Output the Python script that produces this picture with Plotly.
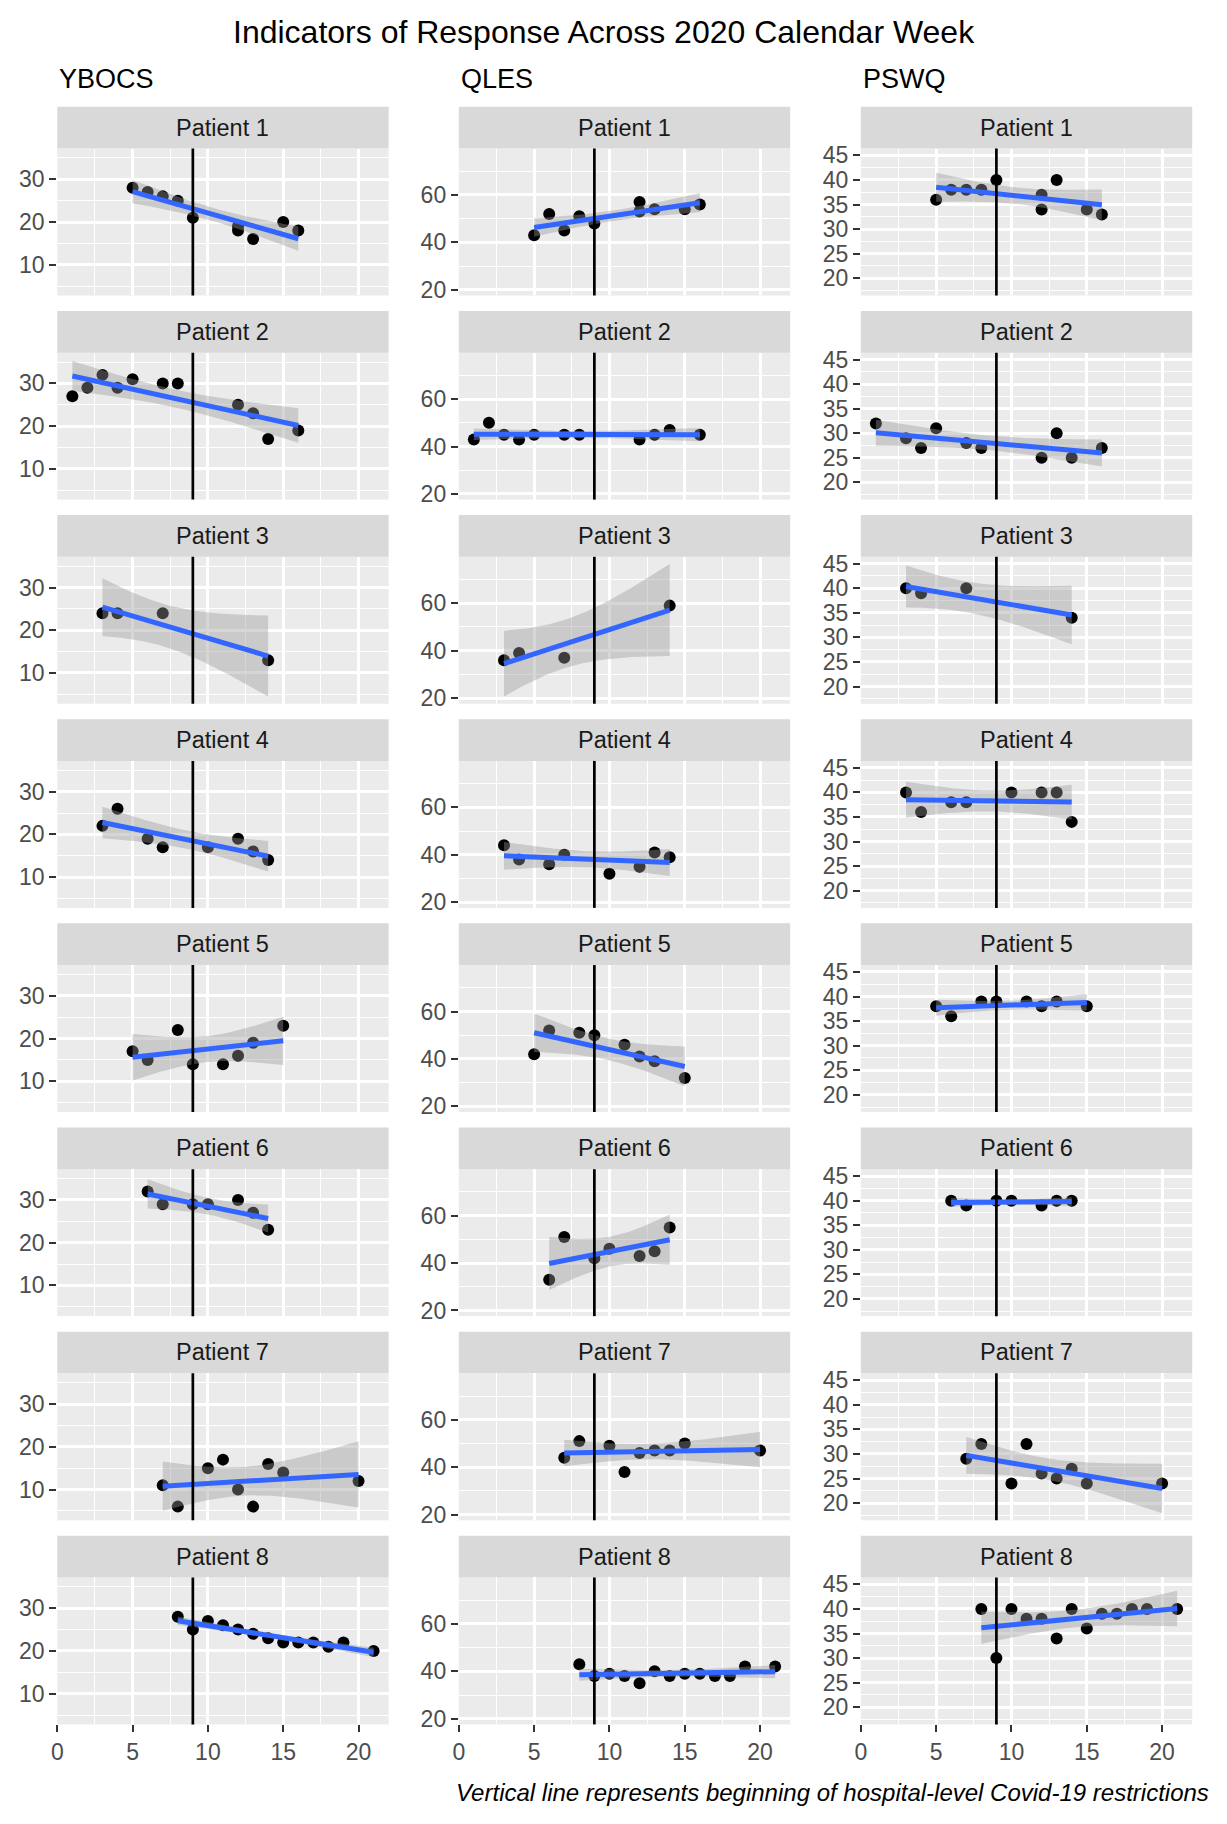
import numpy as np
import plotly.graph_objects as go

# calendar week of each assessment, per patient
weeks_p1 = [5, 6, 7, 8, 9, 12, 12, 13, 15, 16]
weeks_p2 = [1, 2, 3, 4, 5, 7, 8, 12, 13, 14, 16]
weeks_p3 = [3, 4, 7, 14]
weeks_p4 = [3, 4, 6, 7, 10, 12, 13, 14]
weeks_p5 = [5, 6, 8, 9, 11, 12, 13, 15]
weeks_p6 = [6, 7, 9, 10, 12, 13, 14]
weeks_p7 = [7, 8, 10, 11, 12, 13, 14, 15, 20]
weeks_p8 = [8, 9, 10, 11, 12, 13, 14, 15, 16, 17, 18, 19, 21]

# YBOCS scores
ybocs_p1 = [28, 27, 26, 25, 21, 19, 18, 16, 20, 18]
ybocs_p2 = [27, 29, 32, 29, 31, 30, 30, 25, 23, 17, 19]
ybocs_p3 = [24, 24, 24, 13]
ybocs_p4 = [22, 26, 19, 17, 17, 19, 16, 14]
ybocs_p5 = [17, 15, 22, 14, 14, 16, 19, 23]
ybocs_p6 = [32, 29, 29, 29, 30, 27, 23]
ybocs_p7 = [11, 6, 15, 17, 10, 6, 16, 14, 12]
ybocs_p8 = [28, 25, 27, 26, 25, 24, 23, 22, 22, 22, 21, 22, 20]

# QLES scores
qles_p1 = [43, 52, 45, 51, 48, 57, 53, 54, 54, 56]
qles_p2 = [43, 50, 45, 43, 45, 45, 45, 43, 45, 47, 45]
qles_p3 = [36, 39, 37, 59]
qles_p4 = [44, 38, 36, 40, 32, 35, 41, 39]
qles_p5 = [42, 52, 51, 50, 46, 41, 39, 32]
qles_p6 = [33, 51, 42, 46, 43, 45, 55]
qles_p7 = [44, 51, 49, 38, 46, 47, 47, 50, 47]
qles_p8 = [43, 38, 39, 38, 35, 40, 38, 39, 39, 38, 38, 42, 42]

# PSWQ scores (None = not collected that week)
pswq_p1 = [36, 38, 38, 38, 40, 37, 34, 40, 34, 33]
pswq_p2 = [32, None, 29, 27, 31, 28, 27, 25, 30, 25, 27]
pswq_p3 = [40, 39, 40, 34]
pswq_p4 = [40, 36, 38, 38, 40, 40, 40, 34]
pswq_p5 = [38, 36, 39, 39, 39, 38, 39, 38]
pswq_p6 = [40, 39, 40, 40, 39, 40, 40]
pswq_p7 = [29, 32, 24, 32, 26, 25, 27, 24, 24]
pswq_p8 = [40, 30, 40, 38, 38, 34, 40, 36, 39, 39, 40, 40, 40]

restriction_week = 9
x_ticks = [0, 5, 10, 15, 20]

weeks = [weeks_p1, weeks_p2, weeks_p3, weeks_p4, weeks_p5, weeks_p6, weeks_p7, weeks_p8]
measures = [
    ("YBOCS", [ybocs_p1, ybocs_p2, ybocs_p3, ybocs_p4, ybocs_p5, ybocs_p6, ybocs_p7, ybocs_p8],
     [2.8, 37.2], [10, 20, 30], [5, 15, 25, 35]),
    ("QLES", [qles_p1, qles_p2, qles_p3, qles_p4, qles_p5, qles_p6, qles_p7, qles_p8],
     [17.6, 79.6], [20, 40, 60], [30, 50, 70]),
    ("PSWQ", [pswq_p1, pswq_p2, pswq_p3, pswq_p4, pswq_p5, pswq_p6, pswq_p7, pswq_p8],
     [16.5, 46.4], [20, 25, 30, 35, 40, 45], [17.5, 22.5, 27.5, 32.5, 37.5, 42.5]),
]

# t(0.975) by degrees of freedom, for the lm confidence band
T975 = [None, 12.706, 4.303, 3.182, 2.776, 2.571, 2.447, 2.365, 2.306, 2.262, 2.228,
        2.201, 2.179, 2.160, 2.145, 2.131]


def lm_band(x, y, n_out=80):
    x = np.asarray(x, float)
    y = np.asarray(y, float)
    n = len(x)
    b1, b0 = np.polyfit(x, y, 1)
    xs = np.linspace(x.min(), x.max(), n_out)
    fit = b0 + b1 * xs
    s = np.sqrt(np.sum((y - (b0 + b1 * x)) ** 2) / (n - 2))
    sxx = np.sum((x - x.mean()) ** 2)
    se = s * np.sqrt(1 / n + (xs - x.mean()) ** 2 / sxx)
    t = T975[n - 2]
    return xs, fit, fit - t * se, fit + t * se


W, H = 1227, 1824
COL_LEFT = [43.5, 447, 851]
PANEL_W = 333
STRIP_TOP0 = 93.5
STRIP_H = 42
PANEL_H = 148
ROW_STEP = 205.6

FONT = "Liberation Sans, Arial, sans-serif"

fig = go.Figure()
shapes = []
annotations = []
layout_axes = {}

for c, (name, series, yrange, yticks, yminor) in enumerate(measures):
    x0 = COL_LEFT[c] / W
    x1 = (COL_LEFT[c] + PANEL_W) / W
    annotations.append(dict(text=name, x=x0, y=1 - 65 / H, xref="paper", yref="paper",
                            xanchor="left", yanchor="middle", showarrow=False,
                            font=dict(size=27, color="black")))
    for r in range(8):
        idx = c * 8 + r + 1
        xn = "x" if idx == 1 else f"x{idx}"
        yn = "y" if idx == 1 else f"y{idx}"
        strip_top = STRIP_TOP0 + r * ROW_STEP
        p_top = strip_top + STRIP_H
        p_bot = p_top + PANEL_H
        bottom = r == 7

        layout_axes["xaxis" if idx == 1 else f"xaxis{idx}"] = dict(
            domain=[x0, x1], anchor=yn, range=[0, 22], tickmode="array", tickvals=x_ticks,
            showgrid=True, gridcolor="white", gridwidth=2.6,
            minor=dict(tickmode="array", tickvals=[2.5, 7.5, 12.5, 17.5], showgrid=True,
                       gridcolor="white", gridwidth=1.3),
            zeroline=False, showline=False,
            ticks="outside" if bottom else "", ticklen=7, tickwidth=2.4, tickcolor="#333333",
            showticklabels=bottom, tickfont=dict(size=23, color="#4D4D4D"),
        )
        layout_axes["yaxis" if idx == 1 else f"yaxis{idx}"] = dict(
            domain=[1 - p_bot / H, 1 - p_top / H], anchor=xn, range=yrange,
            tickmode="array", tickvals=yticks,
            showgrid=True, gridcolor="white", gridwidth=2.6,
            minor=dict(tickmode="array", tickvals=yminor, showgrid=True,
                       gridcolor="white", gridwidth=1.3),
            zeroline=False, showline=False,
            ticks="outside", ticklen=7, tickwidth=2.4, tickcolor="#333333",
            tickfont=dict(size=23, color="#4D4D4D"),
        )

        # facet strip
        shapes.append(dict(type="rect", xref="paper", yref="paper", x0=x0, x1=x1,
                           y0=1 - p_top / H, y1=1 - strip_top / H,
                           fillcolor="#D9D9D9", line=dict(width=0), layer="below"))
        annotations.append(dict(text=f"Patient {r + 1}", x=(x0 + x1) / 2,
                                y=1 - (strip_top + STRIP_H / 2) / H, xref="paper", yref="paper",
                                xanchor="center", yanchor="middle", showarrow=False,
                                font=dict(size=23.5, color="#1A1A1A")))

        wk = [w for w, v in zip(weeks[r], series[r]) if v is not None]
        val = [v for v in series[r] if v is not None]

        fig.add_trace(go.Scatter(x=wk, y=val, mode="markers", xaxis=xn, yaxis=yn,
                                 marker=dict(color="black", size=12), hoverinfo="skip"))
        xs, fit, lo, hi = lm_band(wk, val)
        fig.add_trace(go.Scatter(x=np.concatenate([xs, xs[::-1]]), y=np.concatenate([hi, lo[::-1]]),
                                 fill="toself", fillcolor="rgba(153,153,153,0.4)",
                                 line=dict(width=0), mode="lines", xaxis=xn, yaxis=yn,
                                 hoverinfo="skip"))
        fig.add_trace(go.Scatter(x=xs, y=fit, mode="lines", xaxis=xn, yaxis=yn,
                                 line=dict(color="#3366FF", width=5), hoverinfo="skip"))

        shapes.append(dict(type="line", xref=xn, yref=f"{yn} domain",
                           x0=restriction_week, x1=restriction_week, y0=0, y1=1,
                           line=dict(color="black", width=2.7), layer="above"))

annotations.append(dict(text="Indicators of Response Across 2020 Calendar Week",
                        x=593 / W, y=1 - 18.5 / H, xref="paper", yref="paper",
                        xanchor="center", yanchor="middle", showarrow=False,
                        font=dict(size=32, color="black")))
annotations.append(dict(text="<i>Vertical line represents beginning of hospital-level Covid-19 restrictions</i>",
                        x=1202.5 / W, y=1 - 1791 / H, xref="paper", yref="paper",
                        xanchor="right", yanchor="middle", showarrow=False,
                        font=dict(size=24, color="black")))

fig.update_layout(
    width=W, height=H,
    margin=dict(l=0, r=0, t=0, b=0),
    paper_bgcolor="white", plot_bgcolor="#EBEBEB",
    showlegend=False,
    font=dict(family=FONT),
    shapes=shapes, annotations=annotations,
    **layout_axes,
)

fig.write_html("out.html")
